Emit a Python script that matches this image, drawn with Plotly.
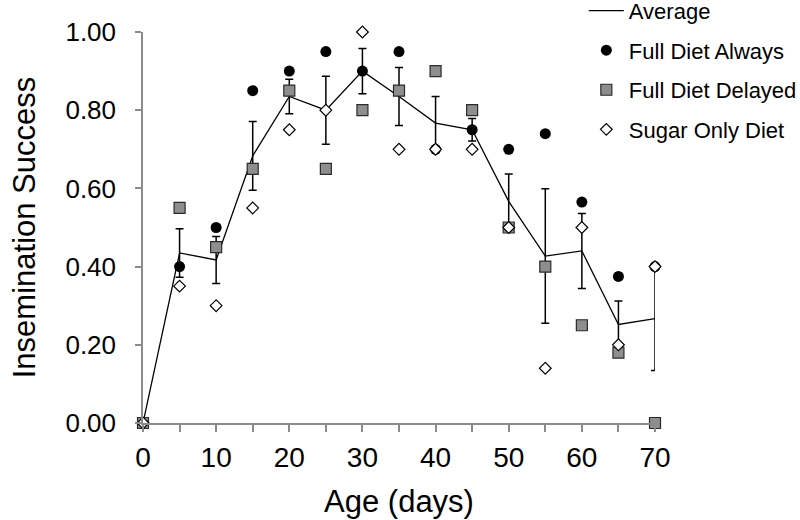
import plotly.graph_objects as go

age = [0, 5, 10, 15, 20, 25, 30, 35, 40, 45, 50, 55, 60, 65, 70]
full_always = [0.00, 0.40, 0.50, 0.85, 0.90, 0.95, 0.90, 0.95, 0.70, 0.75, 0.70, 0.74, 0.565, 0.375, 0.40]
full_delayed = [0.00, 0.55, 0.45, 0.65, 0.85, 0.65, 0.80, 0.85, 0.90, 0.80, 0.50, 0.40, 0.25, 0.18, 0.00]
sugar_only = [0.00, 0.35, 0.30, 0.55, 0.75, 0.80, 1.00, 0.70, 0.70, 0.70, 0.50, 0.14, 0.50, 0.20, 0.40]
average = [0.00, 0.435, 0.417, 0.683, 0.835, 0.80, 0.90, 0.835, 0.767, 0.75, 0.567, 0.427, 0.44, 0.252, 0.267]
average_err = [0.00, 0.062, 0.060, 0.088, 0.044, 0.087, 0.058, 0.074, 0.068, 0.029, 0.070, 0.172, 0.096, 0.060, 0.133]

FONT = "Liberation Sans, Arial, sans-serif"
AXIS = "#8a8a8a"

fig = go.Figure()
fig.add_trace(go.Scatter(
    x=age, y=average, name="Average", mode="lines",
    line=dict(color="black", width=1.3),
    error_y=dict(type="data", array=average_err, visible=True,
                 color="black", thickness=1.5, width=4),
    cliponaxis=False, legendgroup="a"))
fig.add_trace(go.Scatter(
    x=age, y=full_always, name="Full Diet Always", mode="markers",
    marker=dict(symbol="circle", size=11, color="black"),
    cliponaxis=False, legendgroup="b"))
fig.add_trace(go.Scatter(
    x=age, y=full_delayed, name="Full Diet Delayed", mode="markers",
    marker=dict(symbol="square", size=11, color="#8e8e8e",
                line=dict(color="#2a2a2a", width=1.2)),
    cliponaxis=False, legendgroup="c"))
fig.add_trace(go.Scatter(
    x=age, y=sugar_only, name="Sugar Only Diet", mode="markers",
    marker=dict(symbol="diamond", size=9, color="white",
                line=dict(color="black", width=1.2)),
    cliponaxis=False, legendgroup="d"))

fig.update_layout(
    width=800, height=520,
    margin=dict(l=143, r=145, t=32, b=97, autoexpand=False),
    paper_bgcolor="white", plot_bgcolor="white",
    font=dict(family=FONT, color="black"),
    showlegend=True,
    legend=dict(x=0.861, xanchor="left", y=1.108, yanchor="top",
                font=dict(size=22, family=FONT), tracegroupgap=8,
                bgcolor="rgba(0,0,0,0)", itemwidth=35),
    xaxis=dict(range=[0, 70], dtick=10, tick0=0,
               showline=True, linecolor=AXIS, linewidth=1.5,
               ticks="outside", ticklen=7, tickcolor=AXIS, tickwidth=1.5,
               minor=dict(dtick=5, tick0=0, ticks="outside", ticklen=7,
                          tickcolor=AXIS, tickwidth=1.5),
               showgrid=False, zeroline=False, ticklabelstandoff=2,
               tickfont=dict(size=28, family=FONT),
               title=dict(text="Age (days)", font=dict(size=31, family=FONT), standoff=18)),
    yaxis=dict(range=[0, 1], dtick=0.2, tickformat=".2f",
               showline=True, linecolor=AXIS, linewidth=1.5,
               ticks="outside", ticklen=6, tickcolor=AXIS, tickwidth=1.5,
               showgrid=False, zeroline=False, ticklabelstandoff=14,
               tickfont=dict(size=26, family=FONT),
               title=dict(text="Insemination Success", font=dict(size=31, family=FONT), standoff=21)),
)

fig.write_html("out.html", config={"displayModeBar": False},
               post_script="document.body.style.margin='0';")
